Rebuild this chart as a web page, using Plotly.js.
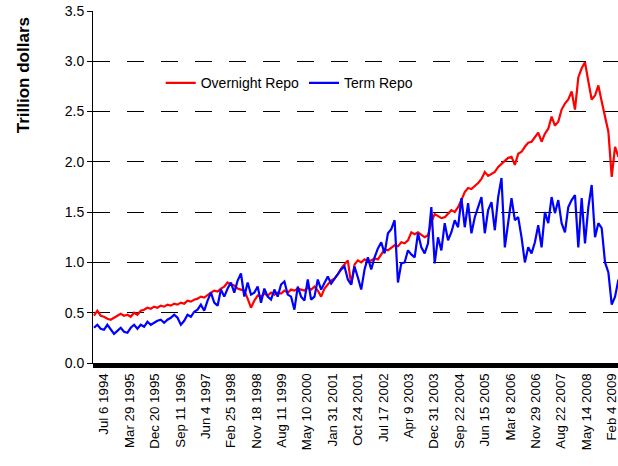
<!DOCTYPE html>
<html><head><meta charset="utf-8">
<script src="https://cdn.plot.ly/plotly-3.0.1.min.js"></script>
<style>html,body{margin:0;padding:0;overflow:hidden;background:#fff}</style>
</head><body><div id="chart" style="width:618px;height:466px"></div>
<script>
// weekly series, one reading every 5 weeks (trillion dollars)
const weekStep = 5;
const overnightRepo = [
0.47,0.52,0.47,0.46,0.44,0.43,0.45,0.47,0.49,0.47,
0.48,0.46,0.50,0.48,0.52,0.53,0.55,0.54,0.56,0.55,
0.57,0.56,0.58,0.57,0.59,0.58,0.60,0.59,0.62,0.61,
0.63,0.64,0.66,0.65,0.68,0.70,0.72,0.71,0.74,0.76,
0.80,0.78,0.77,0.74,0.73,0.72,0.64,0.55,0.62,0.67,
0.66,0.69,0.67,0.70,0.68,0.70,0.69,0.72,0.70,0.73,
0.72,0.74,0.73,0.72,0.75,0.73,0.76,0.72,0.66,0.74,
0.78,0.82,0.84,0.88,0.94,0.98,1.02,0.78,0.98,1.02,
1.00,1.03,1.01,1.02,1.04,1.03,1.08,1.13,1.12,1.15,
1.17,1.16,1.20,1.19,1.22,1.30,1.28,1.30,1.27,1.25,
1.27,1.40,1.48,1.46,1.44,1.45,1.48,1.52,1.50,1.55,
1.62,1.70,1.74,1.73,1.76,1.79,1.83,1.90,1.86,1.88,
1.90,1.95,1.98,2.02,2.04,2.05,1.97,2.08,2.10,2.15,
2.19,2.20,2.24,2.29,2.20,2.28,2.33,2.45,2.36,2.40,
2.52,2.58,2.62,2.70,2.52,2.84,2.93,2.99,2.80,2.62,
2.66,2.76,2.60,2.45,2.30,1.85,2.15,2.05
];
const termRepo = [
0.35,0.38,0.34,0.33,0.38,0.33,0.29,0.32,0.35,0.31,
0.30,0.35,0.38,0.34,0.38,0.36,0.41,0.38,0.40,0.42,
0.43,0.40,0.43,0.45,0.48,0.45,0.38,0.42,0.48,0.46,
0.51,0.53,0.58,0.52,0.62,0.70,0.60,0.57,0.73,0.66,
0.74,0.80,0.70,0.82,0.89,0.66,0.80,0.68,0.70,0.76,
0.60,0.74,0.66,0.63,0.73,0.66,0.78,0.81,0.68,0.66,
0.53,0.76,0.66,0.62,0.83,0.63,0.66,0.83,0.73,0.80,
0.86,0.79,0.84,0.89,0.93,0.96,0.83,0.78,0.96,0.85,
0.73,0.93,1.05,0.93,1.05,1.14,1.20,1.09,1.29,1.33,
1.42,0.80,0.99,1.00,1.12,1.08,1.05,1.29,1.15,1.09,
1.19,1.55,0.99,1.25,1.12,1.39,1.22,1.30,1.42,1.35,
1.64,1.35,1.59,1.29,1.45,1.55,1.65,1.29,1.52,1.60,
1.32,1.65,1.84,1.15,1.42,1.64,1.42,1.45,1.25,1.00,
1.15,1.09,1.20,1.37,1.15,1.50,1.39,1.65,1.49,1.62,
1.39,1.30,1.55,1.62,1.67,1.15,1.64,1.19,1.55,1.77,
1.25,1.39,1.34,1.00,0.90,0.58,0.66,0.83
];
const tickWeeks = [15,53,91,129,167,205,243,281,319,357,395,433,471,509,547,585,623,661,699,737,775];
const tickLabels = ["Jul 6 1994","Mar 29 1995","Dec 20 1995","Sep 11 1996","Jun 4 1997","Feb 25 1998",
"Nov 18 1998","Aug 11 1999","May 10 2000","Jan 31 2001","Oct 24 2001","Jul 17 2002","Apr 9 2003",
"Dec 31 2003","Sep 22 2004","Jun 15 2005","Mar 8 2006","Nov 29 2006","Aug 22 2007","May 14 2008","Feb 4 2009"];

const weeks = overnightRepo.map((_, i) => i * weekStep);

const traces = [
  {x: weeks, y: overnightRepo, type: 'scatter', mode: 'lines', name: 'Overnight Repo',
   line: {color: '#ff0000', width: 2.2}},
  {x: weeks, y: termRepo, type: 'scatter', mode: 'lines', name: 'Term Repo',
   line: {color: '#0000ff', width: 2.2}}
];

const layout = {
  width: 618, height: 466,
  margin: {l: 93, r: 0, t: 11, b: 103, pad: 0},
  paper_bgcolor: '#fff', plot_bgcolor: '#fff',
  font: {family: 'Liberation Sans, Arial, sans-serif', size: 13, color: '#000'},
  showlegend: true,
  legend: {orientation: 'h', x: 0.129, y: 0.84, xanchor: 'left', yanchor: 'top',
           bgcolor: 'rgba(0,0,0,0)', font: {size: 14}},
  xaxis: {
    range: [-1.5, 784.4], showgrid: false, zeroline: false,
    showline: true, linecolor: '#000', linewidth: 1,
    tickmode: 'array', tickvals: tickWeeks, ticktext: tickLabels,
    tickangle: -90, ticks: 'outside', ticklen: 4, tickcolor: '#000',
    ticklabeloverflow: 'allow',
    minor: {dtick: 1, tick0: 0, ticks: 'outside', ticklen: 4, tickcolor: '#000', tickwidth: 1, showgrid: false},
    automargin: false, tickfont: {size: 13.3}
  },
  yaxis: {
    range: [0, 3.5], dtick: 0.5, tick0: 0, tickformat: '.1f',
    showgrid: true, gridcolor: '#000', gridwidth: 1, griddash: '17px,17px',
    zeroline: false, showline: true, linecolor: '#000', linewidth: 1,
    ticks: 'outside', ticklen: 5, tickcolor: '#000', automargin: false,
    tickfont: {size: 14}
  },
  annotations: [{
    text: '<b>Trillion dollars</b>', xref: 'paper', yref: 'paper',
    x: -0.133, y: 0.818, xanchor: 'center', yanchor: 'middle',
    textangle: -90, showarrow: false, font: {size: 17, color: '#000'}
  }]
};

Plotly.newPlot('chart', traces, layout, {displayModeBar: false, staticPlot: true});
</script>
</body></html>
